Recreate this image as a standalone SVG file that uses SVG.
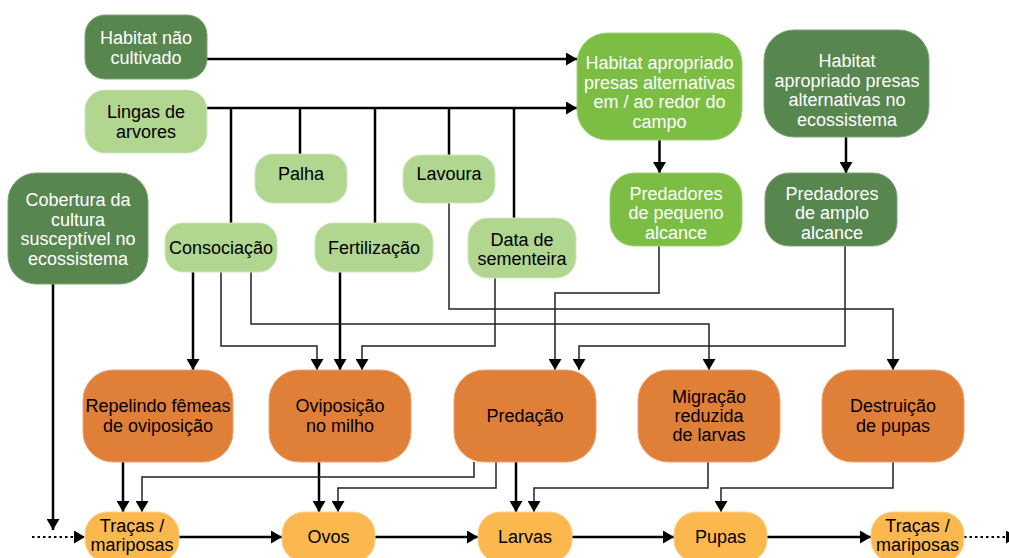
<svg xmlns="http://www.w3.org/2000/svg" width="1009" height="558" viewBox="0 0 1009 558">
<defs>
<marker id="arr" markerUnits="userSpaceOnUse" markerWidth="12" markerHeight="13" refX="11" refY="6.5" orient="auto">
<path d="M0,0 L11,6.5 L0,13 Z" fill="#000"/>
</marker>
<style>
text{font-family:"Liberation Sans",Arial,Helvetica,sans-serif;font-size:18px;text-anchor:middle}
.dk rect{fill:#58864f;stroke:#7ea376;stroke-width:1}
.lt rect{fill:#b0d690;stroke:#cfe7b9;stroke-width:1}
.md rect{fill:#7bbe43;stroke:#a1d27a;stroke-width:1}
.or rect{fill:#e07f37;stroke:#eba474;stroke-width:1}
.ye rect{fill:#fbb84e;stroke:#fcd08a;stroke-width:1}
.dk text,.md text{fill:#fff}
.lt text,.or text,.ye text{fill:#000}
.thick{fill:none;stroke:#000;stroke-width:2.5}
.thin{fill:none;stroke:#222;stroke-width:1.5}
.dot{fill:none;stroke:#000;stroke-width:2;stroke-dasharray:2.5,3}
.a{marker-end:url(#arr)}
</style>
</defs>

<g id="connectors">
<path class="thick a" d="M207,59 H577"/>
<path class="thick a" d="M207,108 H577"/>
<path class="thick" d="M231,108 V224"/>
<path class="thick" d="M300,108 V155"/>
<path class="thick" d="M375,108 V224"/>
<path class="thick" d="M449,108 V155"/>
<path class="thick" d="M514,108 V218"/>
<path class="thick a" d="M659.5,140 V173"/>
<path class="thick a" d="M846,137 V173"/>
<path class="thick a" d="M53,284 V530"/>
<path class="thick a" d="M193,272 V370"/>
<path class="thick a" d="M340,272 V370"/>
<path class="thick a" d="M123,462 V512"/>
<path class="thick a" d="M319,462 V512"/>
<path class="thick a" d="M516,462 V512"/>
<path class="thick a" d="M179,537 H282"/>
<path class="thick a" d="M375,537 H478"/>
<path class="thick a" d="M572,537 H674"/>
<path class="thick a" d="M767,537 H871"/>
<path class="thin a" d="M221,272 V346 H317 V370"/>
<path class="thin a" d="M251,272 V324 H709 V370"/>
<path class="thin a" d="M449,203 V309 H893 V370"/>
<path class="thin a" d="M495,278 V346 H362 V370"/>
<path class="thin a" d="M659,246 V293 H555 V370"/>
<path class="thin a" d="M845,246 V346 H579 V370"/>
<path class="thin a" d="M474,462 V477 H142 V512"/>
<path class="thin a" d="M496,462 V488 H338 V512"/>
<path class="thin a" d="M708,462 V488 H534 V512"/>
<path class="thin a" d="M893,462 V488 H721 V512"/>
<path class="dot a" d="M32,537 H85"/>
<path class="dot a" d="M964,537 H1017"/>
</g>

<g id="n_habitat_nao" class="dk"><rect x="85" y="15" width="122" height="64" rx="20"/>
<text x="146" y="44">Habitat não</text><text x="146" y="63.5">cultivado</text></g>

<g id="n_lingas" class="lt"><rect x="85" y="90" width="122" height="63" rx="20"/>
<text x="146" y="118">Lingas de</text><text x="146" y="137.5">arvores</text></g>

<g id="n_cobertura" class="dk"><rect x="8" y="173" width="140" height="111" rx="28"/>
<text x="78" y="206">Cobertura da</text><text x="78" y="225.5">cultura</text><text x="78" y="245">susceptível no</text><text x="78" y="264.5">ecossistema</text></g>

<g id="n_palha" class="lt"><rect x="255" y="154" width="92" height="49" rx="18"/>
<text x="301" y="180">Palha</text></g>

<g id="n_lavoura" class="lt"><rect x="403" y="155" width="92" height="48" rx="18"/>
<text x="449" y="180">Lavoura</text></g>

<g id="n_consociacao" class="lt"><rect x="165" y="223" width="112" height="49" rx="18"/>
<text x="221" y="254">Consociação</text></g>

<g id="n_fertilizacao" class="lt"><rect x="315" y="223" width="118" height="49" rx="18"/>
<text x="374" y="254">Fertilização</text></g>

<g id="n_data" class="lt"><rect x="468" y="218" width="108" height="60" rx="20"/>
<text x="522" y="245.5">Data de</text><text x="522" y="265">sementeira</text></g>

<g id="n_habitat_campo" class="md"><rect x="577" y="33" width="165" height="107" rx="30"/>
<text x="659.5" y="69">Habitat apropriado</text><text x="659.5" y="88.5">presas alternativas</text><text x="659.5" y="108">em / ao redor do</text><text x="659.5" y="127.5">campo</text></g>

<g id="n_habitat_eco" class="dk"><rect x="764" y="30" width="165" height="107" rx="30"/>
<text x="847" y="67">Habitat</text><text x="847" y="86.5">apropriado presas</text><text x="847" y="106">alternativas no</text><text x="847" y="125.5">ecossistema</text></g>

<g id="n_pred_pequeno" class="md"><rect x="610" y="173" width="132" height="73" rx="24"/>
<text x="676" y="199.5">Predadores</text><text x="676" y="219">de pequeno</text><text x="676" y="238.5">alcance</text></g>

<g id="n_pred_amplo" class="dk"><rect x="765" y="173" width="132" height="73" rx="24"/>
<text x="832" y="199.5">Predadores</text><text x="832" y="219">de amplo</text><text x="832" y="238.5">alcance</text></g>

<g id="n_repelindo" class="or"><rect x="83" y="370" width="150" height="92" rx="30"/>
<text x="158" y="412">Repelindo fêmeas</text><text x="158" y="431.5">de oviposição</text></g>

<g id="n_oviposicao" class="or"><rect x="269" y="370" width="142" height="92" rx="30"/>
<text x="340" y="412">Oviposição</text><text x="340" y="431.5">no milho</text></g>

<g id="n_predacao" class="or"><rect x="454" y="370" width="142" height="92" rx="30"/>
<text x="525" y="422">Predação</text></g>

<g id="n_migracao" class="or"><rect x="638" y="370" width="142" height="92" rx="30"/>
<text x="709" y="403">Migração</text><text x="709" y="422">reduzida</text><text x="709" y="441">de larvas</text></g>

<g id="n_destruicao" class="or"><rect x="822" y="370" width="142" height="92" rx="30"/>
<text x="893" y="412">Destruição</text><text x="893" y="431.5">de pupas</text></g>

<g id="n_tracas1" class="ye"><rect x="85" y="512" width="94" height="50" rx="22"/>
<text x="132" y="532">Traças /</text><text x="132" y="551">mariposas</text></g>

<g id="n_ovos" class="ye"><rect x="282" y="512" width="93" height="50" rx="22"/>
<text x="328.5" y="542.5">Ovos</text></g>

<g id="n_larvas" class="ye"><rect x="478" y="512" width="94" height="50" rx="22"/>
<text x="525" y="542.5">Larvas</text></g>

<g id="n_pupas" class="ye"><rect x="674" y="512" width="93" height="50" rx="22"/>
<text x="720.5" y="542.5">Pupas</text></g>

<g id="n_tracas2" class="ye"><rect x="871" y="512" width="93" height="50" rx="22"/>
<text x="917.5" y="532">Traças /</text><text x="917.5" y="551">mariposas</text></g>
</svg>
